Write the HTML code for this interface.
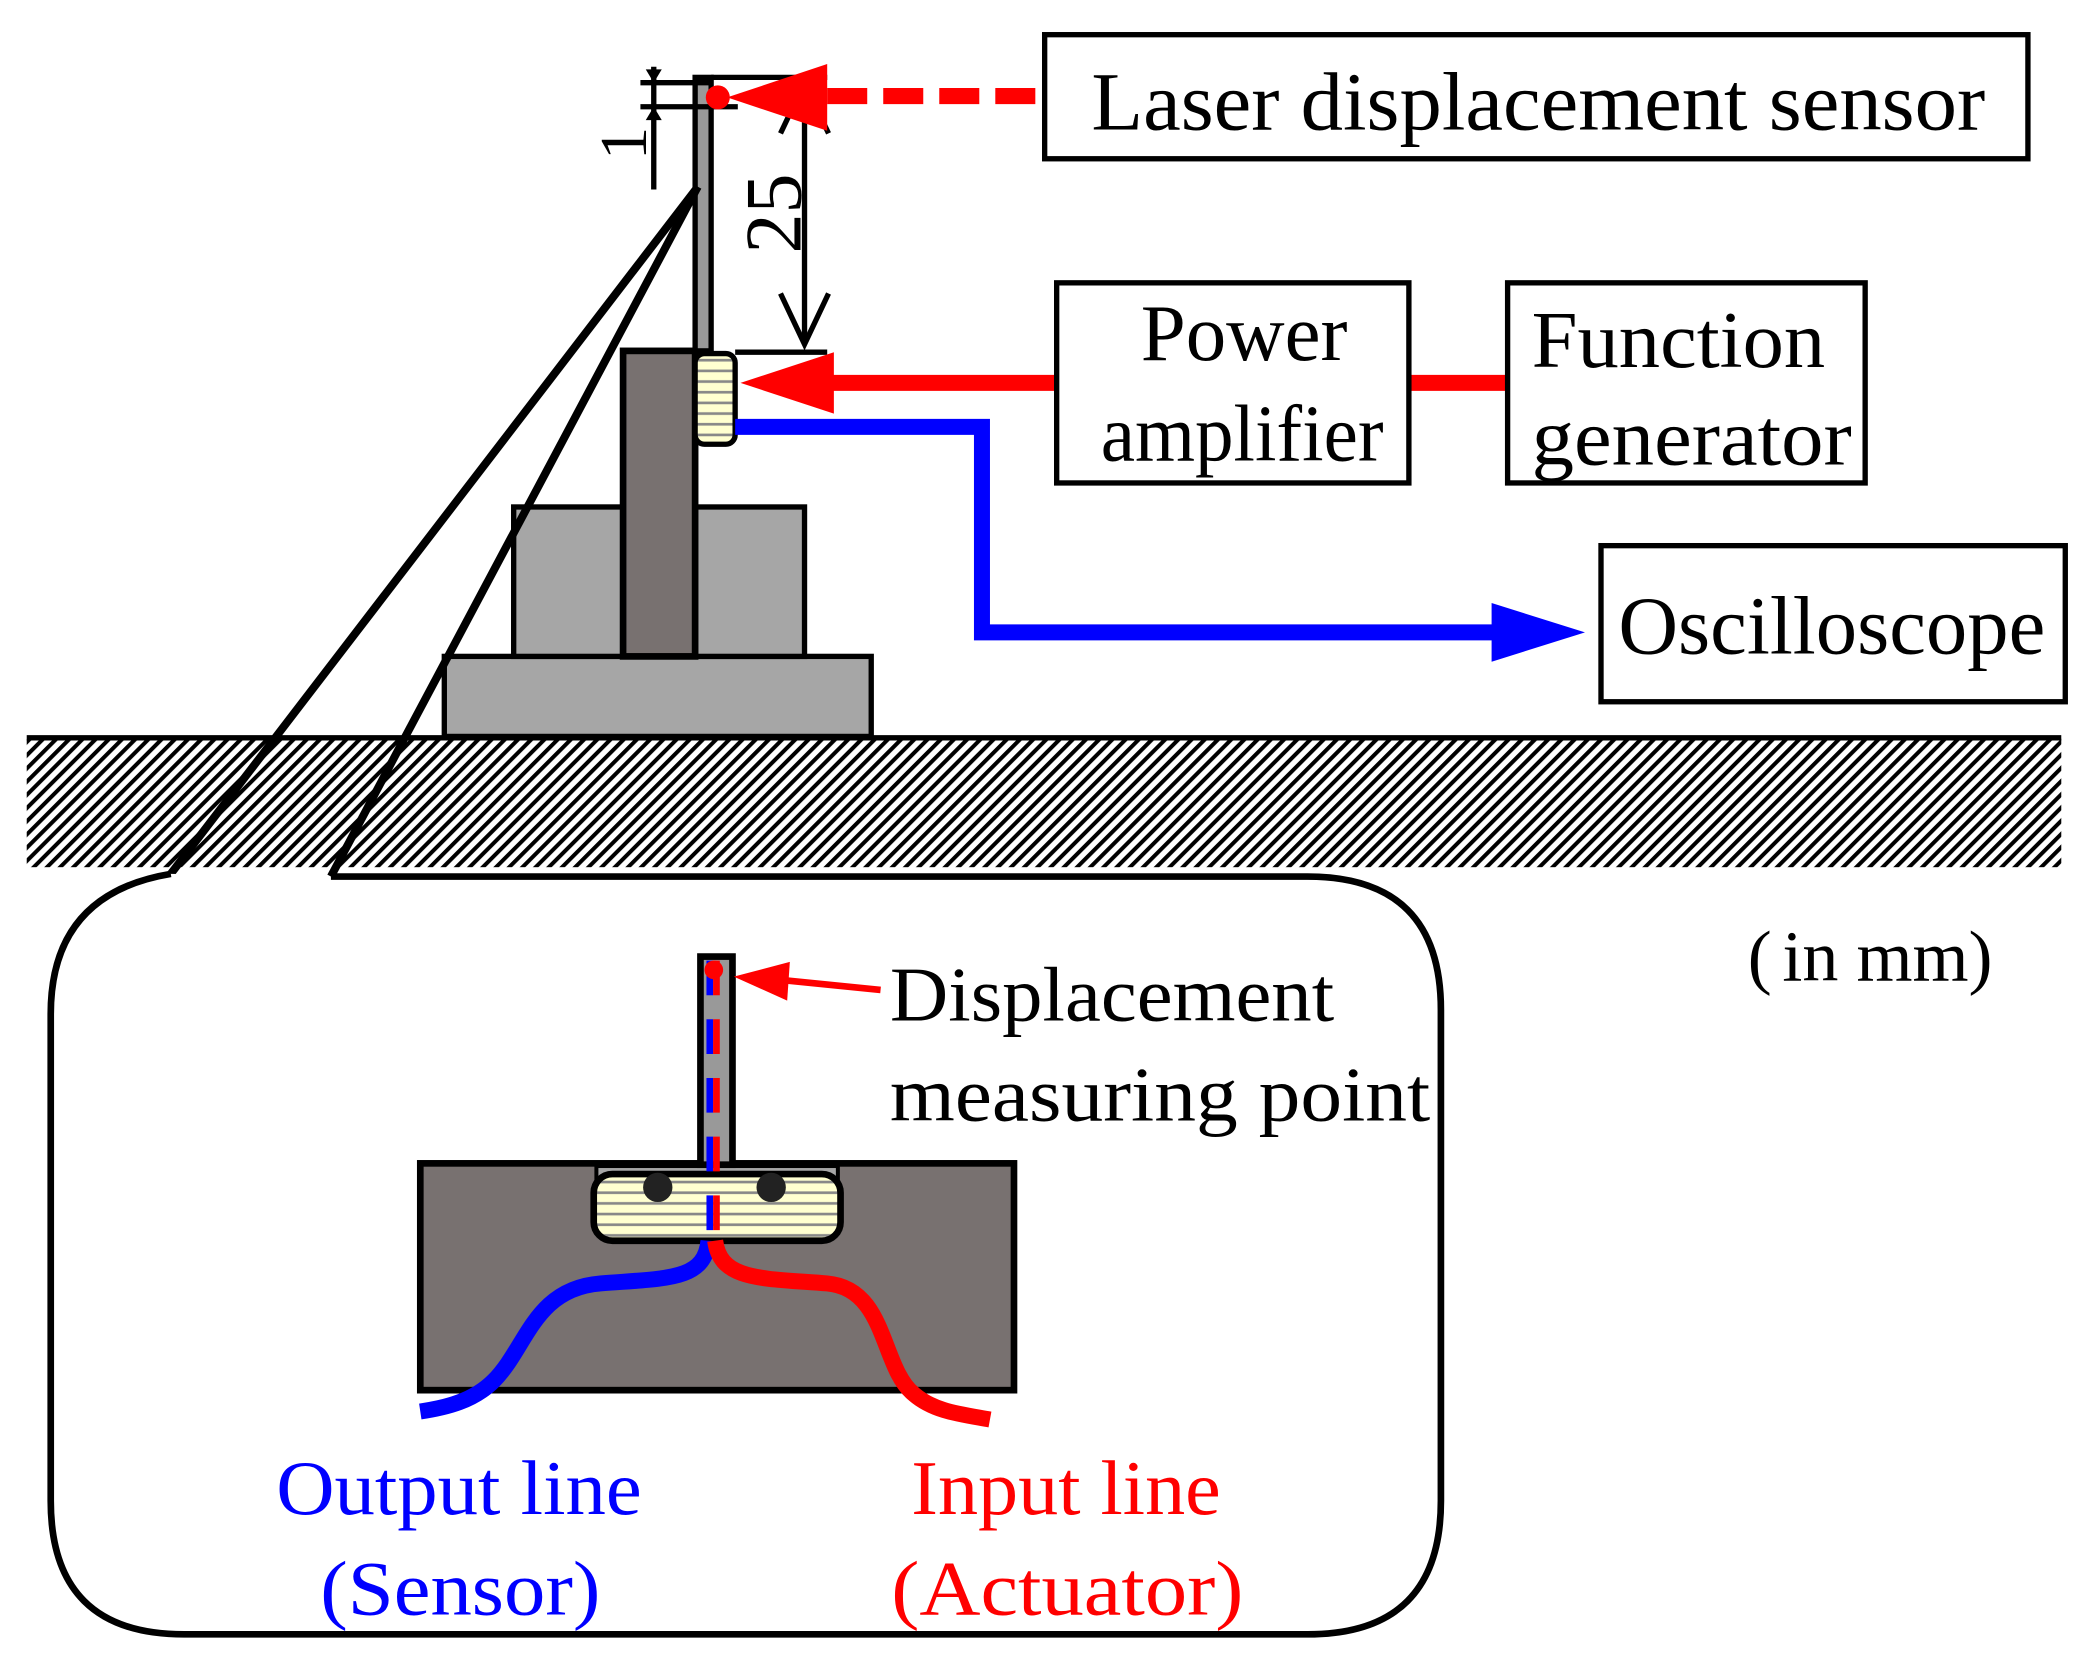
<!DOCTYPE html>
<html><head><meta charset="utf-8"><style>
html,body{margin:0;padding:0;background:#fff;}
svg{display:block;}
text{font-family:"Liberation Serif",serif;}
</style></head><body>
<svg width="2092" height="1665" viewBox="0 0 1568 1248" xmlns="http://www.w3.org/2000/svg">
<defs>
<pattern id="h" width="7" height="7" patternUnits="userSpaceOnUse" patternTransform="rotate(45)">
<rect width="7" height="7" fill="#fff"/><rect width="3" height="7" fill="#000"/>
</pattern>
<pattern id="st" width="10" height="8" patternUnits="userSpaceOnUse">
<rect width="10" height="8" fill="#ffffd0"/><rect y="5" width="10" height="2" fill="#888"/>
</pattern>
</defs>
<rect x="20" y="553" width="1525" height="97" fill="url(#h)"/>
<line x1="20" y1="553" x2="1545" y2="553" stroke="#000" stroke-width="4"/>
<rect x="333" y="492" width="320" height="60" fill="#a6a6a6" stroke="#000" stroke-width="4"/>
<rect x="385" y="380" width="218" height="112" fill="#a6a6a6" stroke="#000" stroke-width="4"/>
<rect x="467" y="263" width="54" height="229" fill="#787170" stroke="#000" stroke-width="5"/>
<rect x="521" y="58" width="12" height="205" fill="#999" stroke="#000" stroke-width="4"/>
<rect x="521" y="265" width="30" height="68" rx="7" fill="url(#st)" stroke="#000" stroke-width="4"/>
<line x1="533" y1="58" x2="620" y2="58" stroke="#000" stroke-width="4"/>
<line x1="551" y1="264" x2="620" y2="264" stroke="#000" stroke-width="4"/>
<line x1="603" y1="62" x2="603" y2="258" stroke="#000" stroke-width="4"/>
<polyline points="585,100 603,62 621,100" fill="none" stroke="#000" stroke-width="4"/>
<polyline points="585,220 603,258 621,220" fill="none" stroke="#000" stroke-width="4"/>
<text transform="translate(600,190) rotate(-90)" font-size="60">25</text>
<line x1="480" y1="62" x2="533" y2="62" stroke="#000" stroke-width="4"/>
<line x1="480" y1="80" x2="553" y2="80" stroke="#000" stroke-width="4"/>
<line x1="490" y1="50" x2="490" y2="142" stroke="#000" stroke-width="4"/>
<polygon points="484,52 496,52 490,62" fill="#000"/>
<polygon points="484,90 496,90 490,80" fill="#000"/>
<text transform="translate(484,120) rotate(-90)" font-size="50">1</text>
<circle cx="538" cy="73" r="9" fill="#f00"/>
<polygon points="545,73 620,48 620,98" fill="#f00"/>
<line x1="620" y1="72" x2="783" y2="72" stroke="#f00" stroke-width="12" stroke-dasharray="30,12"/>
<rect x="783" y="26" width="737" height="93" fill="#fff" stroke="#000" stroke-width="4"/>
<text x="818" y="97" font-size="62" textLength="670" lengthAdjust="spacingAndGlyphs">Laser displacement sensor</text>
<line x1="620" y1="287" x2="792" y2="287" stroke="#f00" stroke-width="12"/>
<polygon points="555,287 625,264 625,310" fill="#f00"/>
<line x1="1056" y1="287" x2="1130" y2="287" stroke="#f00" stroke-width="12"/>
<rect x="792" y="212" width="264" height="150" fill="#fff" stroke="#000" stroke-width="4"/>
<text x="855" y="270" font-size="60" textLength="155" lengthAdjust="spacingAndGlyphs">Power</text>
<text x="825" y="345" font-size="60" textLength="212" lengthAdjust="spacingAndGlyphs">amplifier</text>
<rect x="1130" y="212" width="268" height="150" fill="#fff" stroke="#000" stroke-width="4"/>
<text x="1148" y="275" font-size="60" textLength="220" lengthAdjust="spacingAndGlyphs">Function</text>
<text x="1148" y="348" font-size="60" textLength="240" lengthAdjust="spacingAndGlyphs">generator</text>
<polyline points="551,320 736,320 736,474 1122,474" fill="none" stroke="#00f" stroke-width="12"/>
<polygon points="1188,474 1118,452 1118,496" fill="#00f"/>
<rect x="1200" y="409" width="348" height="117" fill="#fff" stroke="#000" stroke-width="4"/>
<text x="1213" y="490" font-size="62" textLength="320" lengthAdjust="spacingAndGlyphs">Oscilloscope</text>
<line x1="523" y1="140" x2="128" y2="655" stroke="#000" stroke-width="6"/>
<line x1="523" y1="140" x2="248" y2="657" stroke="#000" stroke-width="6"/>
<path d="M248,657 H980 Q1080,657 1080,757 V1125 Q1080,1225 980,1225 H138 Q38,1225 38,1125 V760 Q38,670 128,655" fill="#fff" stroke="#000" stroke-width="5"/>
<text x="1310" y="735" font-size="54"><tspan>(</tspan><tspan dx="8">in mm</tspan><tspan>)</tspan></text>
<rect x="315" y="872" width="445" height="170" fill="#787170" stroke="#000" stroke-width="5"/>
<rect x="447" y="874" width="181" height="40" fill="#a6a6a6" stroke="#000" stroke-width="3"/>
<rect x="445" y="880" width="185" height="50" rx="14" fill="url(#st)" stroke="#000" stroke-width="5"/>
<circle cx="493" cy="890" r="11" fill="#222"/>
<circle cx="578" cy="890" r="11" fill="#222"/>
<rect x="525" y="717" width="24" height="156" fill="#999" stroke="#000" stroke-width="5"/>
<line x1="532" y1="720" x2="532" y2="930" stroke="#00f" stroke-width="5" stroke-dasharray="26,18"/>
<line x1="537" y1="720" x2="537" y2="930" stroke="#f00" stroke-width="5" stroke-dasharray="26,18"/>
<circle cx="535" cy="727" r="7" fill="#f00"/>
<line x1="660" y1="742" x2="590" y2="735" stroke="#f00" stroke-width="5"/>
<polygon points="550,732 592,721 590,750" fill="#f00"/>
<text x="667" y="765" font-size="58" textLength="333" lengthAdjust="spacingAndGlyphs">Displacement</text>
<text x="667" y="840" font-size="58" textLength="405" lengthAdjust="spacingAndGlyphs">measuring point</text>
<path d="M531,930 C528,960 500,958 450,962 C400,966 395,1010 370,1035 C355,1050 335,1055 315,1058" fill="none" stroke="#00f" stroke-width="12"/>
<path d="M536,930 C540,960 570,958 620,962 C665,966 660,1025 685,1045 C700,1058 720,1060 742,1064" fill="none" stroke="#f00" stroke-width="12"/>
<text x="207" y="1135" font-size="58" fill="#00f" textLength="274" lengthAdjust="spacingAndGlyphs">Output line</text>
<text x="240" y="1210" font-size="58" fill="#00f" textLength="210" lengthAdjust="spacingAndGlyphs">(Sensor)</text>
<text x="683" y="1135" font-size="58" fill="#f00" textLength="232" lengthAdjust="spacingAndGlyphs">Input line</text>
<text x="668" y="1210" font-size="58" fill="#f00" textLength="264" lengthAdjust="spacingAndGlyphs">(Actuator)</text>
</svg>
</body></html>
